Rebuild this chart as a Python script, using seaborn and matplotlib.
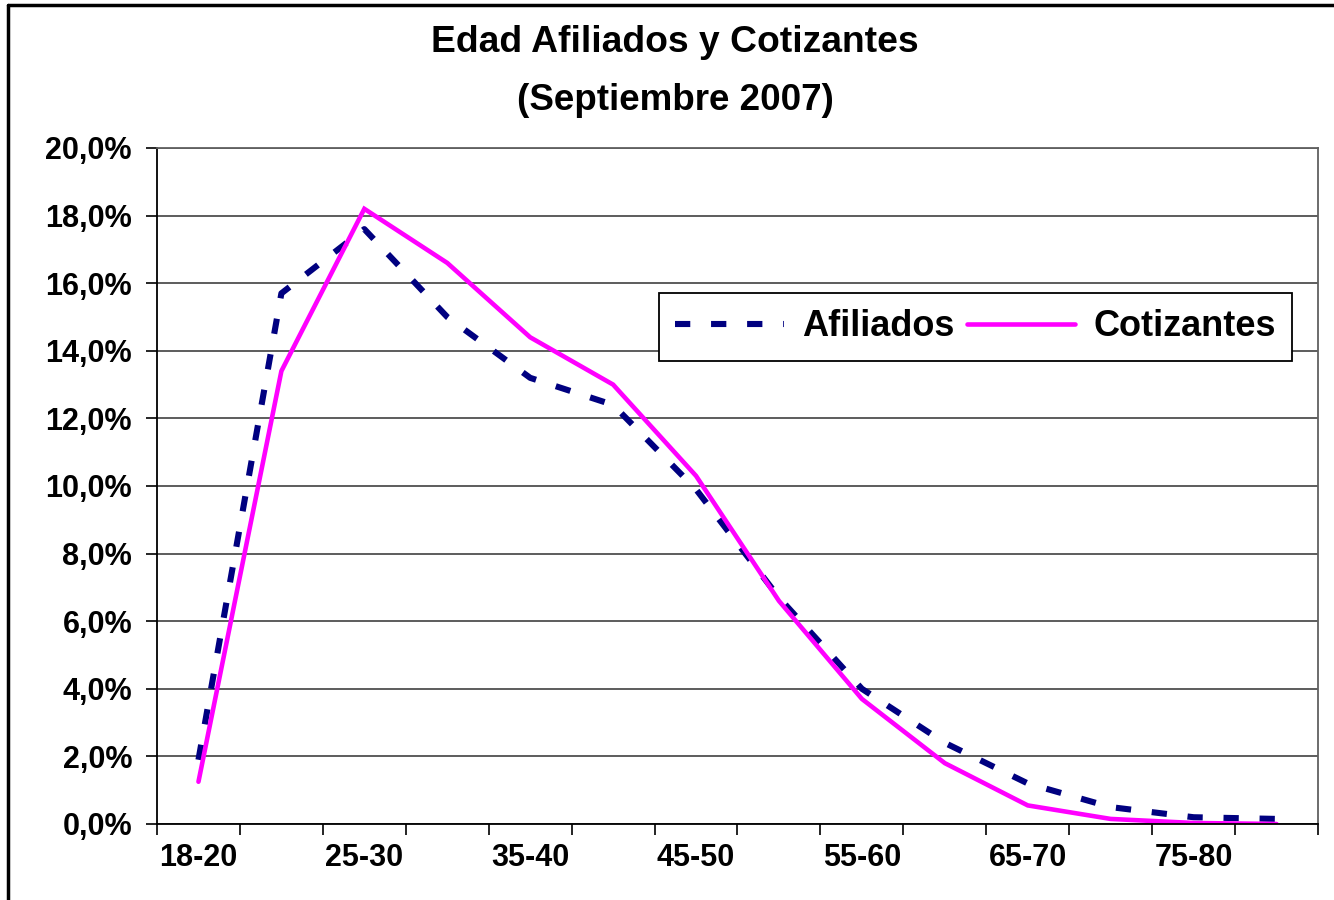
import numpy as np
import pandas as pd
import matplotlib
matplotlib.use("Agg")
import matplotlib.pyplot as plt
from matplotlib.ticker import FuncFormatter, FixedLocator, NullFormatter
from matplotlib.lines import Line2D
import seaborn as sns

# ---- data ----
categories = ["18-20", "20-25", "25-30", "30-35", "35-40", "40-45", "45-50",
              "50-55", "55-60", "60-65", "65-70", "70-75", "75-80", "80-85"]
afiliados = [1.9, 15.7, 17.6, 15.0, 13.2, 12.4, 9.9, 6.7, 4.0, 2.4, 1.2, 0.5, 0.2, 0.15]
cotizantes = [1.25, 13.4, 18.2, 16.6, 14.4, 13.0, 10.3, 6.6, 3.7, 1.8, 0.55, 0.15, 0.03, 0.0]
shown_labels = ["18-20", "25-30", "35-40", "45-50", "55-60", "65-70", "75-80"]
title = "Edad Afiliados y Cotizantes"
subtitle = "(Septiembre 2007)"

pos = np.arange(len(categories))
df_a = pd.DataFrame({"pos": pos, "valor": afiliados})
df_c = pd.DataFrame({"pos": pos, "valor": cotizantes})

sns.set_theme(style="white")
plt.rcParams["font.family"] = ["Liberation Sans", "DejaVu Sans"]
plt.rcParams["font.weight"] = "bold"
plt.rcParams["text.color"] = "black"

fig = plt.figure(figsize=(13.34, 9.0), dpi=100)
ax = fig.add_axes([157 / 1334, 1 - 824 / 900, (1318 - 157) / 1334, (824 - 148) / 900])

sns.lineplot(data=df_a, x="pos", y="valor", ax=ax, color="#000080",
             linewidth=4.4, label="Afiliados", legend=False)
sns.lineplot(data=df_c, x="pos", y="valor", ax=ax, color="#FF00FF",
             linewidth=3.3, label="Cotizantes", legend=False)
la, lc = ax.get_lines()[0], ax.get_lines()[1]
la.set_dashes((2.5, 3.4))
la.set_dash_capstyle("butt")
lc.set_solid_capstyle("round")
lc.set_solid_joinstyle("miter")

ax.set_xlim(-0.5, len(categories) - 0.5)
ax.set_ylim(0, 20)
ax.set_xlabel("")
ax.set_ylabel("")

# grid lines
ax.yaxis.set_major_locator(FixedLocator(np.arange(0, 20.01, 2)))
ax.yaxis.set_major_formatter(FuncFormatter(lambda v, p: f"{v:.1f}%".replace(".", ",")))
ax.grid(axis="y", color="#303030", linewidth=1.1)
ax.grid(axis="x", visible=False)
ax.set_axisbelow(True)

# x ticks at boundaries, labels at every other category
ax.xaxis.set_major_locator(FixedLocator(np.arange(-0.5, len(categories), 1)))
ax.xaxis.set_major_formatter(NullFormatter())
label_pos = [categories.index(c) for c in shown_labels]
ax.xaxis.set_minor_locator(FixedLocator(label_pos))
ax.set_xticklabels(shown_labels, minor=True)

ax.tick_params(axis="x", which="major", direction="out", length=8, width=1.2, color="black", bottom=True)
ax.tick_params(axis="x", which="minor", length=0, pad=14, labelsize=22, labelcolor="black", bottom=True)
ax.tick_params(axis="y", which="major", direction="out", length=8, width=1.2, color="black",
               left=True, labelsize=22, labelcolor="black", pad=10)
for t in ax.get_xticklabels(minor=True) + ax.get_yticklabels():
    t.set_fontweight("bold")

for s in ["left", "bottom"]:
    ax.spines[s].set_color("black")
    ax.spines[s].set_linewidth(1.3)
for s in ["right", "top"]:
    ax.spines[s].set_color("#606060")
    ax.spines[s].set_linewidth(1.3)

leg = ax.legend(handles=[la, lc], labels=["Afiliados", "Cotizantes"], ncol=2,
                loc="upper left", bbox_to_anchor=((659 - 157) / 1161, (824 - 293) / 676),
                frameon=True, fancybox=False, shadow=False, borderaxespad=0,
                prop={"weight": "bold", "size": 26}, handlelength=3.0,
                handletextpad=0.5, columnspacing=0.35, borderpad=0.45)
leg.get_frame().set_edgecolor("black")
leg.get_frame().set_linewidth(1.3)
leg.get_frame().set_alpha(1)
for t in leg.get_texts():
    t.set_color("black")

fig.text(675 / 1334, 1 - 42 / 900, title, ha="center", va="center",
         fontsize=26.8, fontweight="bold", color="black")
fig.text(675 / 1334, 1 - 100 / 900, subtitle, ha="center", va="center",
         fontsize=26.5, fontweight="bold", color="black")

# outer chart border (left and top visible)
fig.add_artist(Line2D([8 / 1334, 8 / 1334], [0, 1 - 5 / 900], transform=fig.transFigure,
                      color="black", linewidth=2.5))
fig.add_artist(Line2D([8 / 1334, 1], [1 - 5 / 900, 1 - 5 / 900], transform=fig.transFigure,
                      color="black", linewidth=2.5))

fig.savefig("out.png", dpi=100, facecolor="white")
